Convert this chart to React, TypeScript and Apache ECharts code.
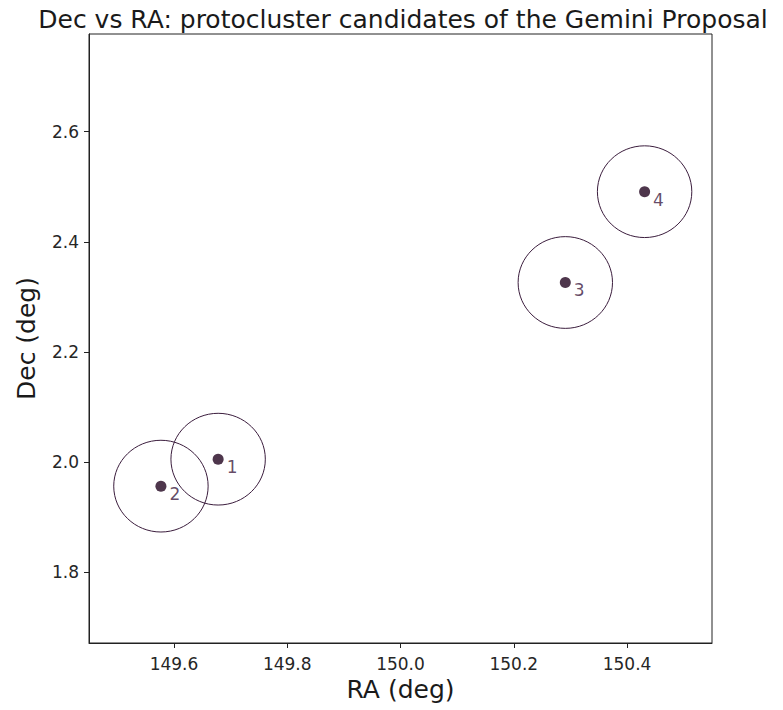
import React, { useEffect, useRef } from "react";
import * as echarts from "echarts";

const TITLE = "Dec vs RA: protocluster candidates of the Gemini Proposal";
const X_NAME = "RA (deg)";
const Y_NAME = "Dec (deg)";

const candidateLabels = ["1", "2", "3", "4"];
const raValues = [149.678, 149.577, 150.291, 150.431];
const decValues = [2.005, 1.956, 2.326, 2.491];
const circleRadiusDeg = 5 / 60;

const xTicks = [149.6, 149.8, 150.0, 150.2, 150.4];
const yTicks = [1.8, 2.0, 2.2, 2.4, 2.6];
const xRange = [149.45, 150.55];
const yRange = [1.671, 2.7775];

export default function App() {
  const ref = useRef<HTMLDivElement>(null);
  useEffect(() => {
    if (!ref.current) return;
    const chart = echarts.init(ref.current, null, { renderer: "svg" });
    const pts = raValues.map((ra, i) => [ra, decValues[i], candidateLabels[i]]);
    const font = "DejaVu Sans";
    const axisCommon = {
      axisLine: { show: true, onZero: false, lineStyle: { color: "#222", width: 1 } },
      axisTick: { show: true, length: 5, lineStyle: { color: "#222", width: 1 } },
      splitLine: { show: false },
      nameLocation: "middle" as const,
      nameTextStyle: { fontFamily: font, fontSize: 25, color: "#1a1a1a" },
    };
    chart.setOption({
      animation: false,
      backgroundColor: "#ffffff",
      title: {
        text: TITLE,
        left: 398,
        top: 2,
        textAlign: "center",
        textStyle: { fontFamily: font, fontSize: 25, fontWeight: "normal", color: "#1a1a1a" },
      },
      grid: {
        left: 89,
        right: 71,
        top: 34,
        bottom: 67,
        show: true,
        borderColor: "#222",
        borderWidth: 1,
        backgroundColor: "transparent",
      },
      xAxis: {
        type: "value",
        min: xRange[0],
        max: xRange[1],
        name: X_NAME,
        nameGap: 33,
        ...axisCommon,
        axisTick: { ...axisCommon.axisTick, customValues: xTicks },
        axisLabel: {
          customValues: xTicks,
          formatter: (v: number) => v.toFixed(1),
          fontFamily: font,
          fontSize: 17,
          color: "#262626",
          margin: 12,
        },
      },
      yAxis: {
        type: "value",
        min: yRange[0],
        max: yRange[1],
        name: Y_NAME,
        nameGap: 50,
        ...axisCommon,
        axisTick: { ...axisCommon.axisTick, customValues: yTicks },
        axisLabel: {
          customValues: yTicks,
          formatter: (v: number) => v.toFixed(1),
          fontFamily: font,
          fontSize: 17,
          color: "#262626",
          margin: 10,
        },
      },
      series: [
        {
          type: "custom",
          data: pts,
          silent: true,
          renderItem: (params: any, api: any) => {
            const c = api.coord([api.value(0), api.value(1)]);
            const s = api.size([circleRadiusDeg, circleRadiusDeg]);
            return {
              type: "ellipse",
              shape: { cx: c[0], cy: c[1], rx: s[0], ry: s[1] },
              style: { fill: "none", stroke: "#3b1d3d", lineWidth: 1 },
            };
          },
          z: 2,
        },
        {
          type: "scatter",
          data: pts,
          symbolSize: 11,
          itemStyle: { color: "#22041f" },
          label: {
            show: true,
            position: "right",
            distance: 3,
            offset: [0, 8],
            formatter: (p: any) => p.value[2],
            fontFamily: font,
            fontSize: 17,
            color: "#3d1b3f",
          },
          z: 3,
        },
      ],
    });
    return () => chart.dispose();
  }, []);
  return <div ref={ref} style={{ width: 783, height: 710, marginLeft: -8, marginTop: -8 }} />;
}
